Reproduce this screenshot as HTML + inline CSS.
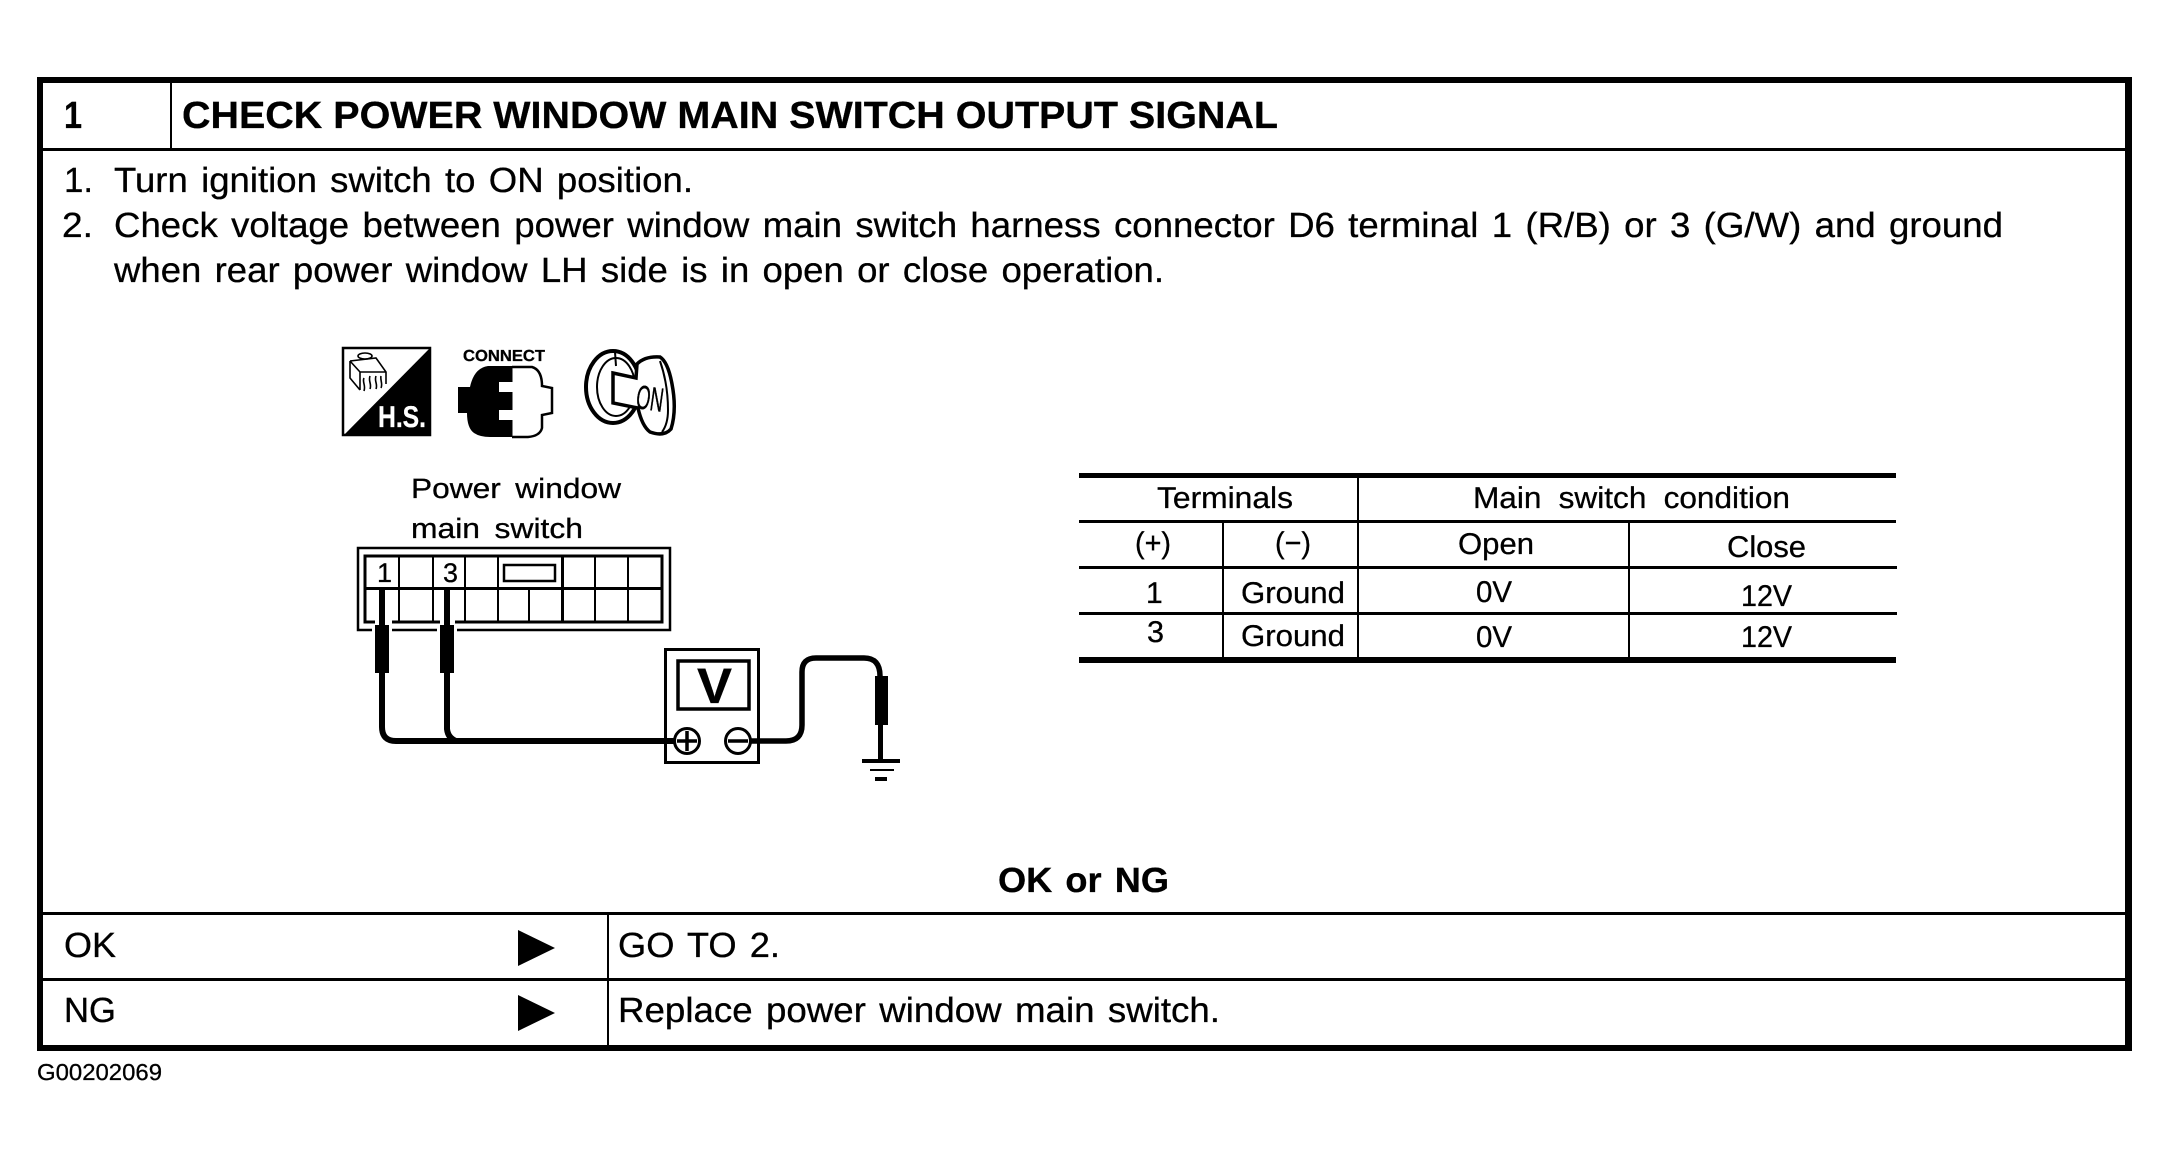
<!DOCTYPE html>
<html>
<head>
<meta charset="utf-8">
<style>
html,body{margin:0;padding:0;background:#fff;width:2169px;height:1155px;overflow:hidden}
svg{display:block}
text{font-family:"Liberation Sans",Arial,sans-serif;fill:#000;stroke:#000;stroke-width:.3px;text-rendering:geometricPrecision}
.b{font-weight:bold}
.t34{font-size:35px;word-spacing:3px}
.t30{font-size:30px}
.r{shape-rendering:crispEdges;fill:#000}
</style>
</head>
<body>
<svg width="2169" height="1155" viewBox="0 0 2169 1155" xmlns="http://www.w3.org/2000/svg">
<rect width="2169" height="1155" fill="#fff"/>

<!-- outer frame -->
<rect class="r" x="37" y="77" width="2095" height="6"/>
<rect class="r" x="37" y="1045" width="2095" height="6"/>
<rect class="r" x="37" y="77" width="6" height="974"/>
<rect class="r" x="2125" y="77" width="7" height="974"/>
<rect class="r" x="43" y="148" width="2082" height="3"/>
<rect class="r" x="170" y="83" width="2" height="66"/>
<rect class="r" x="43" y="912" width="2082" height="3"/>
<rect class="r" x="43" y="978" width="2082" height="3"/>
<rect class="r" x="607" y="914" width="2" height="132"/>

<!-- header -->
<text class="b" x="64" y="128" textLength="18" lengthAdjust="spacingAndGlyphs" style="font-size:38px">1</text>
<text class="b" x="182" y="128" textLength="1096" lengthAdjust="spacingAndGlyphs" style="font-size:38px">CHECK POWER WINDOW MAIN SWITCH OUTPUT SIGNAL</text>

<!-- steps -->
<text class="t34" x="64" y="192" textLength="29" lengthAdjust="spacingAndGlyphs">1.</text>
<text class="t34" x="114" y="192" textLength="579" lengthAdjust="spacingAndGlyphs">Turn ignition switch to ON position.</text>
<text class="t34" x="62" y="237" textLength="31" lengthAdjust="spacingAndGlyphs">2.</text>
<text class="t34" x="114" y="237" textLength="1889" lengthAdjust="spacingAndGlyphs">Check voltage between power window main switch harness connector D6 terminal 1 (R/B) or 3 (G/W) and ground</text>
<text class="t34" x="114" y="282" textLength="1050" lengthAdjust="spacingAndGlyphs">when rear power window LH side is in open or close operation.</text>

<!-- H.S. icon -->
<rect x="343" y="348" width="87" height="87" fill="#fff" stroke="#000" stroke-width="2.5"/>
<path d="M430 348 L430 436 L343 436 Z" fill="#000"/>
<text class="b" x="378" y="427" textLength="48" lengthAdjust="spacingAndGlyphs" style="font-size:30px;fill:#fff;stroke:#fff">H.S.</text>
<g fill="none" stroke="#000" stroke-width="1.6">
<path d="M350 361 L376 358 L386 372 L386 384 M350 361 L350 378 L360 390 M350 361 L360 372 L386 372 M360 372 L360 390"/>
<ellipse cx="365" cy="356" rx="7" ry="3"/>
<path d="M364 378 C362 382 366 385 364 391 M370 376 C368 381 372 384 370 389 M376 376 C374 381 378 384 376 389 M381 376 C380 380 383 384 381 388"/>
</g>

<!-- CONNECT icon -->
<text class="b" x="463" y="361" textLength="82" lengthAdjust="spacingAndGlyphs" style="font-size:16px">CONNECT</text>
<path d="M512 367 L532 367 Q542 370 542 386 L552 388 L552 413 L542 415 L542 428 Q540 436 528 437 L512 437" fill="#fff" stroke="#000" stroke-width="2.5"/>
<path d="M512.5 366 L488 366 Q474 368 470 387 L458 387 L458 413 L467 413 Q467 428 474 433 Q480 437 490 437 L512.5 437 L512.5 420 L499 420 L499 410 L512.5 410 L512.5 392 L499 392 L499 382 L512.5 382 Z" fill="#000"/>

<!-- key icon -->
<g fill="none" stroke="#000">
<ellipse cx="613" cy="387" rx="27" ry="36" stroke-width="4"/>
<ellipse cx="616" cy="387" rx="19" ry="29" stroke-width="2"/>
<path d="M613 373 L636 378 L637 364 Q645 356 660 357 Q668 362 672 384 Q677 410 671 429 Q664 437 650 432 Q642 426 638 408 L613 403 Z" fill="#fff" stroke-width="3.5"/>
<path d="M660 361 Q668 384 668 410 Q668 424 662 432" stroke-width="2"/>
<path d="M615 352 L616 366" stroke-width="2"/>
</g>
<text transform="translate(635,408) rotate(8) scale(.75,1.4)" style="font-size:24px" x="0" y="0">ON</text>

<!-- Power window label -->
<text x="411" y="498" textLength="210" lengthAdjust="spacingAndGlyphs" style="font-size:28px;word-spacing:5px">Power window</text>
<text x="411" y="538" textLength="172" lengthAdjust="spacingAndGlyphs" style="font-size:28px;word-spacing:5px">main switch</text>

<!-- connector -->
<path d="M372 630 L358 630 L358 548 L670 548 L670 630 L457 630 M392 630 L437 630" fill="none" stroke="#000" stroke-width="2.5"/>
<path d="M375 622 L365 622 L365 556 L662 556 L662 622 L455 622 M392 622 L440 622" fill="none" stroke="#000" stroke-width="3"/>
<g class="r">
<rect class="r" x="365" y="587" width="297" height="3"/>
<rect class="r" x="398" y="556" width="2" height="66"/>
<rect class="r" x="432" y="556" width="2" height="66"/>
<rect class="r" x="464" y="556" width="2" height="66"/>
<rect class="r" x="497" y="556" width="2" height="66"/>
<rect class="r" x="528" y="588" width="2" height="34"/>
<rect class="r" x="561" y="556" width="3" height="66"/>
<rect class="r" x="594" y="556" width="2" height="66"/>
<rect class="r" x="627" y="556" width="2" height="66"/>
</g>
<rect x="504" y="565" width="51" height="16" fill="none" stroke="#000" stroke-width="2.5"/>
<text x="377" y="582" style="font-size:27px">1</text>
<text x="443" y="582" style="font-size:27px">3</text>

<!-- probes & wires -->
<rect class="r" x="379" y="588" width="6" height="40"/>
<rect class="r" x="375" y="625" width="14" height="48"/>
<rect class="r" x="444" y="588" width="6" height="40"/>
<rect class="r" x="440" y="625" width="14" height="48"/>
<path d="M382 673 L382 727 Q382 741 396 741 L676 741" fill="none" stroke="#000" stroke-width="6"/>
<path d="M447 673 L447 729 Q448 738 456 741" fill="none" stroke="#000" stroke-width="6"/>

<!-- meter -->
<rect x="665.5" y="649.5" width="93" height="113" fill="#fff" stroke="#000" stroke-width="3"/>
<rect x="678" y="661" width="71" height="48" fill="#fff" stroke="#000" stroke-width="3.5"/>
<text class="b" x="697" y="703" textLength="35" lengthAdjust="spacingAndGlyphs" style="font-size:50px">V</text>
<path d="M665 741 L676 741" stroke="#000" stroke-width="6"/>
<circle cx="687" cy="741" r="12.5" fill="#fff" stroke="#000" stroke-width="3"/>
<path d="M677 741 H697 M687 731 V751" stroke="#000" stroke-width="3.5"/>
<circle cx="738" cy="741" r="12.5" fill="#fff" stroke="#000" stroke-width="3"/>
<path d="M728 741 H748" stroke="#000" stroke-width="3.5"/>
<path d="M751 741 L786 741 Q802 741 802 725 L802 672 Q802 658 816 658 L864 658 Q880 658 880 676" fill="none" stroke="#000" stroke-width="5.5"/>
<rect class="r" x="875" y="676" width="13" height="49"/>
<rect class="r" x="878" y="725" width="5" height="34"/>
<rect class="r" x="862" y="759" width="38" height="4"/>
<rect class="r" x="870" y="769" width="24" height="2"/>
<rect class="r" x="875" y="777" width="12" height="4"/>

<!-- table -->
<rect class="r" x="1079" y="473" width="817" height="5"/>
<rect class="r" x="1079" y="520" width="817" height="3"/>
<rect class="r" x="1079" y="566" width="818" height="3"/>
<rect class="r" x="1079" y="612" width="818" height="3"/>
<rect class="r" x="1079" y="657" width="817" height="6"/>
<rect class="r" x="1357" y="478" width="2" height="180"/>
<rect class="r" x="1222" y="522" width="2" height="136"/>
<rect class="r" x="1628" y="522" width="2" height="136"/>

<text class="t30" x="1157" y="508" textLength="136" lengthAdjust="spacingAndGlyphs">Terminals</text>
<text class="t30" x="1473" y="508" textLength="317" lengthAdjust="spacingAndGlyphs" style="word-spacing:8px">Main switch condition</text>
<text class="t30" x="1135" y="553" textLength="36" lengthAdjust="spacingAndGlyphs">(+)</text>
<text class="t30" x="1275" y="553" textLength="36" lengthAdjust="spacingAndGlyphs">(−)</text>
<text class="t30" x="1458" y="554" textLength="76" lengthAdjust="spacingAndGlyphs">Open</text>
<text class="t30" x="1727" y="557" textLength="79" lengthAdjust="spacingAndGlyphs">Close</text>
<text class="t30" x="1146" y="603">1</text>
<text class="t30" x="1241" y="603" textLength="104" lengthAdjust="spacingAndGlyphs">Ground</text>
<text class="t30" x="1476" y="602" textLength="36" lengthAdjust="spacingAndGlyphs">0V</text>
<text class="t30" x="1741" y="606" textLength="51" lengthAdjust="spacingAndGlyphs">12V</text>
<text class="t30" x="1147" y="642" textLength="17" lengthAdjust="spacingAndGlyphs">3</text>
<text class="t30" x="1241" y="646" textLength="104" lengthAdjust="spacingAndGlyphs">Ground</text>
<text class="t30" x="1476" y="647" textLength="36" lengthAdjust="spacingAndGlyphs">0V</text>
<text class="t30" x="1741" y="647" textLength="51" lengthAdjust="spacingAndGlyphs">12V</text>

<!-- OK or NG -->
<text class="b t34" x="998" y="892" textLength="171" lengthAdjust="spacingAndGlyphs">OK or NG</text>

<!-- bottom rows -->
<text class="t34" x="64" y="957" textLength="52" lengthAdjust="spacingAndGlyphs">OK</text>
<text class="t34" x="64" y="1022" textLength="52" lengthAdjust="spacingAndGlyphs">NG</text>
<path d="M518 930 L555 948 L518 966 Z" fill="#000"/>
<path d="M518 995 L555 1013 L518 1031 Z" fill="#000"/>
<text class="t34" x="618" y="957" textLength="162" lengthAdjust="spacingAndGlyphs">GO TO 2.</text>
<text class="t34" x="618" y="1022" textLength="602" lengthAdjust="spacingAndGlyphs">Replace power window main switch.</text>

<text x="37" y="1080" textLength="125" lengthAdjust="spacingAndGlyphs" style="font-size:23px">G00202069</text>
</svg>
</body>
</html>
